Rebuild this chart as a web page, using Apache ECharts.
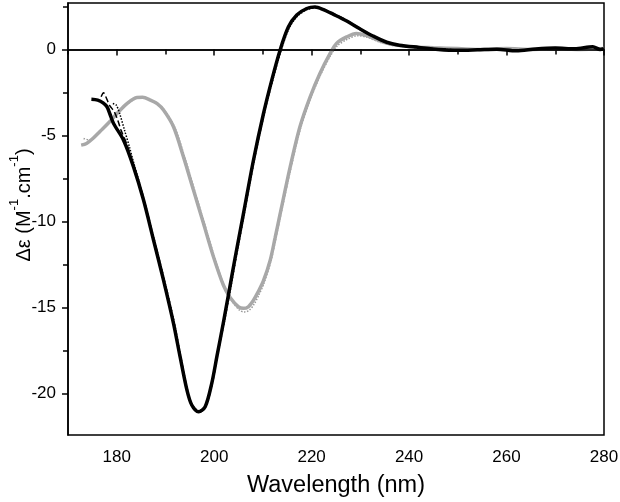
<!DOCTYPE html>
<html><head><meta charset="utf-8">
<script src="https://cdn.jsdelivr.net/npm/echarts@6/dist/echarts.min.js"></script>
<style>html,body{margin:0;padding:0;background:#fff}#c{width:620px;height:502px}</style>
</head><body><div id="c"></div>
<script>
// ---- tick labels ----
const xLabelValues = [180, 200, 220, 240, 260, 280];
const xMinorTicks = [170, 190, 210, 230, 250, 270];
const yLabelValues = [-20, -15, -10, -5, 0];
const yMinorTicks = [-17.5, -12.5, -7.5, -2.5, 2.5];
const yTitle = '{n|Δε (M}{s|-1}{n|.cm}{s|-1}{n|)}';
const xTitle = 'Wavelength (nm)';

// ---- black solid ----
const blackX = [174.8,176.1,177.2,178.0,178.6,179.35,181.4,183.45,185.5,187.55,189.6,191.65,193.0,194.4,195.4,196.77,198.15,199.5,200.55,201.9,202.9,204.3,206.0,208.05,210.1,211.82,213.52,215.22,216.95,219.0,220.7,222.4,224.4,227.2,229.9,232.6,235.4,238.0,242.0,246.0,250.0,254.0,258.0,262.0,266.0,270.0,274.0,277.7,279.2,280.0];
const blackY = [-2.89,-2.94,-3.10,-3.33,-3.75,-4.30,-5.27,-6.82,-8.75,-11.07,-13.40,-15.91,-17.85,-19.78,-20.66,-21.05,-20.76,-19.40,-17.85,-15.85,-14.30,-12.10,-9.55,-6.45,-3.75,-1.78,-0.04,1.30,2.00,2.38,2.47,2.32,2.05,1.65,1.20,0.78,0.42,0.25,0.12,0.00,-0.05,-0.02,0.02,-0.08,0.03,0.08,0.04,0.16,0.00,0.05];

// ---- black dashed ----
const blackDashX = [176.8,177.3,177.7,178.5,179.5,180.2,180.9,182.0,183.45,185.5,187.55,189.6,191.65,193.0,194.4,195.4,196.8,198.15,199.5,200.55,201.9,202.9,204.3,206.0,208.05,210.1,211.82,213.52,215.22,216.95,219.0,220.7,222.4,224.4,227.2,229.9,232.6,235.4,238.0,242.0,248.0,252.0];
const blackDashY = [-2.75,-2.52,-2.71,-3.23,-3.62,-4.10,-4.70,-5.46,-6.70,-8.70,-11.0,-13.35,-15.9,-17.85,-19.8,-20.7,-21.1,-20.8,-19.45,-17.9,-15.9,-14.35,-12.1,-9.5,-6.4,-3.7,-1.72,0.0,1.35,2.03,2.40,2.48,2.36,2.10,1.70,1.22,0.80,0.42,0.24,0.10,0.0,-0.05];

// ---- black dotted ----
const blackDotX = [179.2,179.9,180.6,181.6,182.6,183.45,185.5,187.6,189.7,191.8,193.1,194.5,195.5,196.9,198.3,199.7,200.7,202.1,203.1,204.5,206.2,208.25,210.3,212.0,213.7,215.4,217.1,219.2,220.9,222.6,224.6,227.4,230.1,232.8,235.6,238.2,242.0,248.0,255.0];
const blackDotY = [-3.14,-3.23,-3.72,-4.69,-5.66,-6.55,-8.6,-10.95,-13.3,-15.85,-17.8,-19.75,-20.65,-21.0,-20.7,-19.3,-17.75,-15.8,-14.3,-12.1,-9.5,-6.4,-3.7,-1.8,-0.08,1.25,1.95,2.33,2.42,2.28,2.0,1.6,1.15,0.72,0.38,0.2,0.1,0.0,-0.05];

// ---- grey solid ----
const greyX = [172.7,173.8,175.1,176.6,178.2,180.05,182.1,184.15,185.3,186.9,188.3,189.6,191.65,193.7,195.75,197.8,199.85,201.9,203.3,205.0,206.0,207.0,208.0,209.0,210.1,211.5,212.5,213.5,215.6,217.6,219.7,221.7,223.8,225.1,227.2,229.2,231.3,234.0,236.7,240.9,245.0,250.0,255.0,260.0,265.0,270.0,275.0,280.0];
const greyY = [-5.56,-5.46,-5.17,-4.75,-4.30,-3.72,-3.14,-2.79,-2.78,-2.94,-3.15,-3.52,-4.49,-6.24,-8.17,-10.1,-12.04,-13.7,-14.42,-14.95,-15.04,-14.95,-14.6,-14.1,-13.45,-12.24,-10.95,-9.6,-6.82,-4.49,-2.75,-1.39,-0.23,0.35,0.73,0.93,0.80,0.50,0.28,0.15,0.10,0.05,0.0,0.05,0.0,0.05,0.0,0.05];

// ---- grey dotted ----
const greyDotX = [173.2,174.3,175.5,176.8,178.4,180.2,182.2,184.3,185.5,187.1,188.5,189.9,191.95,194.0,196.05,198.1,200.15,202.2,203.6,205.2,206.2,207.2,208.2,209.2,210.2,211.6,212.6,213.6,215.7,217.7,219.8,221.8,223.9,225.3,227.4,229.4,231.5,234.0,237.0,241.0,246.0,252.0,262.0];
const greyDotY = [-5.17,-5.25,-5.05,-4.70,-4.28,-3.72,-3.16,-2.82,-2.80,-2.96,-3.18,-3.56,-4.55,-6.30,-8.25,-10.2,-12.15,-13.85,-14.6,-15.15,-15.25,-15.15,-14.8,-14.25,-13.6,-12.35,-11.05,-9.7,-6.95,-4.6,-2.85,-1.5,-0.35,0.22,0.6,0.8,0.7,0.42,0.22,0.12,0.05,0.0,0.0];

const zip = (xs, ys) => xs.map((x, i) => [x, ys[i]]);
const FONT = '"Liberation Sans", Arial, sans-serif';
const GREY = '#a8a8a8';

const chart = echarts.init(document.getElementById('c'), null, {renderer: 'canvas'});
const X_MIN = 170, X_MAX = 280, Y_MIN = -22.4, Y_MAX = 2.7;
const lineAx = {show: true, lineStyle: {color: '#000', width: 1.5}};
const SM = 0.3;

chart.setOption({
  animation: false,
  backgroundColor: '#fff',
  grid: {left: 68, right: 16, top: 3, bottom: 67, containLabel: false, outerBoundsMode: 'none',
         show: true, borderColor: '#000', borderWidth: 1.5, backgroundColor: 'transparent'},
  xAxis: [
    {type: 'value', min: X_MIN, max: X_MAX, position: 'bottom',
     axisLine: lineAx,
     axisTick: {show: true, inside: false, length: 6, lineStyle: {color: '#000', width: 1.5}, customValues: xLabelValues},
     axisLabel: {show: true, customValues: xLabelValues, color: '#000', fontSize: 17, fontFamily: FONT, margin: 14},
     splitLine: {show: false},
     name: xTitle, nameLocation: 'middle', nameGap: 39,
     nameTextStyle: {color: '#000', fontSize: 23.5, fontFamily: FONT}},
    {type: 'value', min: X_MIN, max: X_MAX, position: 'bottom',
     axisLine: {show: false},
     axisTick: {show: true, inside: false, length: 5, lineStyle: {color: '#000', width: 1.5}, customValues: xMinorTicks},
     axisLabel: {show: false}, splitLine: {show: false}}
  ],
  yAxis: [
    {type: 'value', min: Y_MIN, max: Y_MAX, position: 'left',
     axisLine: lineAx,
     axisTick: {show: true, inside: false, length: 6, lineStyle: {color: '#000', width: 1.5}, customValues: yLabelValues},
     axisLabel: {show: true, customValues: yLabelValues, color: '#000', fontSize: 17, fontFamily: FONT, margin: 12},
     splitLine: {show: false}},
    {type: 'value', min: Y_MIN, max: Y_MAX, position: 'left',
     axisLine: {show: false},
     axisTick: {show: true, inside: false, length: 5, lineStyle: {color: '#000', width: 1.5}, customValues: yMinorTicks},
     axisLabel: {show: false}, splitLine: {show: false}}
  ],
  graphic: [{
    type: 'text', x: 21, y: 205, rotation: Math.PI / 2, silent: true,
    style: {text: yTitle, align: 'center', verticalAlign: 'middle', fill: '#000', font: '20px ' + FONT,
      rich: {n: {fontSize: 20, fontFamily: FONT, fill: '#000', lineHeight: 26, verticalAlign: 'bottom'},
             s: {fontSize: 13, fontFamily: FONT, fill: '#000', lineHeight: 26, verticalAlign: 'top'}}}
  }],
  series: [
    {type: 'line', name: 'grey dotted', data: zip(greyDotX, greyDotY), showSymbol: false, smooth: SM,
     lineStyle: {color: '#999', width: 1.5, type: 'dotted'},
     markLine: {silent: true, symbol: 'none', label: {show: false},
       lineStyle: {color: '#000', width: 1.5, type: 'solid'}, data: [{yAxis: 0}]}},
    {type: 'line', name: 'grey', data: zip(greyX, greyY), showSymbol: false, smooth: SM,
     lineStyle: {color: GREY, width: 3.5}},
    {type: 'line', name: 'black dotted', data: zip(blackDotX, blackDotY), showSymbol: false, smooth: SM,
     lineStyle: {color: '#000', width: 1.5, type: 'dotted'}},
    {type: 'line', name: 'black dashed', data: zip(blackDashX, blackDashY), showSymbol: false, smooth: SM,
     lineStyle: {color: '#000', width: 1.5, type: 'dashed'}},
    {type: 'line', name: 'black', data: zip(blackX, blackY), showSymbol: false, smooth: SM,
     lineStyle: {color: '#000', width: 3.5}}
  ]
});
</script></body></html>
